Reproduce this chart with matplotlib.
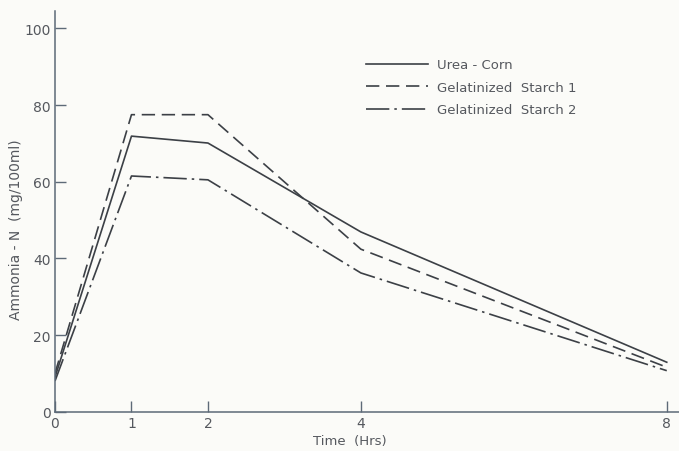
"""Ammonia-N in rumen fluid over time for three supplements (scanned figure redraw)."""
import matplotlib
matplotlib.use('Agg')
import matplotlib.pyplot as plt

# time after feeding (hrs)
hours = [0, 1, 2, 4, 8]

# ammonia-N (mg/100ml)
urea_corn = [9.0, 71.9, 70.1, 46.9, 12.9]
starch_1 = [10.0, 77.5, 77.5, 42.4, 11.6]
starch_2 = [8.0, 61.5, 60.5, 36.2, 10.7]

series_labels = ['Urea - Corn', 'Gelatinized  Starch 1', 'Gelatinized  Starch 2']
x_ticks = [0, 1, 2, 4, 8]
y_ticks = [0, 20, 40, 60, 80, 100]

ink = '#3c4046'
axis_col = '#5d6a78'
text_col = '#55585e'
paper = '#fbfbf8'


def main():
    plt.rcParams['font.family'] = ['DejaVu Sans']
    fig = plt.figure(figsize=(6.79, 4.52), dpi=100, facecolor=paper)
    ax = fig.add_axes([0.081, 0.087, 0.919, 0.886], facecolor=paper)

    ax.plot(hours, urea_corn, color=ink, lw=1.2, label=series_labels[0])
    ax.plot(hours, starch_1, color=ink, lw=1.2, dashes=(8, 4), label=series_labels[1])
    ax.plot(hours, starch_2, color=ink, lw=1.2, dashes=(14, 3, 1.5, 3), label=series_labels[2])

    ax.set_xlim(0, 8.16)
    ax.set_ylim(0, 104.5)
    ax.set_xticks(x_ticks)
    ax.set_yticks(y_ticks)

    for side in ('top', 'right'):
        ax.spines[side].set_visible(False)
    for side in ('left', 'bottom'):
        ax.spines[side].set_color(axis_col)
        ax.spines[side].set_linewidth(1.1)

    # ticks point into the plot on both axes, as in the scan
    ax.tick_params(axis='x', direction='in', length=8, width=1, color=axis_col,
                   labelsize=10, labelcolor=text_col, pad=3)
    ax.tick_params(axis='y', direction='in', length=8, width=1, color=axis_col,
                   labelsize=10, labelcolor=text_col, pad=3)

    ax.set_xlabel('Time  (Hrs)', fontsize=9.5, color=text_col)
    ax.xaxis.set_label_coords(0.473, -0.055)
    ax.set_ylabel('Ammonia - N  (mg/100ml)', fontsize=10, color=text_col)
    ax.yaxis.set_label_coords(-0.052, 0.456)

    leg = ax.legend(loc='upper left', bbox_to_anchor=(0.498, 0.882), frameon=False,
                    handlelength=4.7, handletextpad=0.7, labelspacing=0.72,
                    fontsize=9.5, borderaxespad=0, borderpad=0)
    for txt in leg.get_texts():
        txt.set_color(text_col)

    fig.savefig('out.png', dpi=100, facecolor=paper)


if __name__ == '__main__':
    main()
